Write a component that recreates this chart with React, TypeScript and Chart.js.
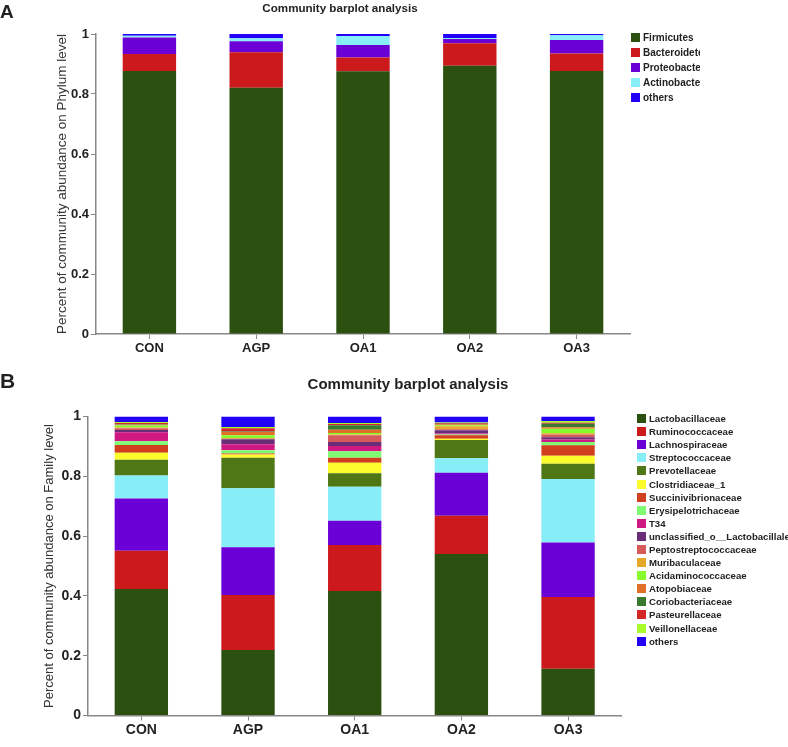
import React, { useEffect, useRef } from "react";
import { Chart, registerables } from "chart.js";

Chart.register(...registerables);

const FONT = '"Liberation Sans", Arial, Helvetica, sans-serif';

// ---------- shared ----------
const groups = ["CON", "AGP", "OA1", "OA2", "OA3"];
const yTicks = [0, 0.2, 0.4, 0.6, 0.8, 1];
const chartTitle = "Community barplot analysis";

// ---------- Panel A: phylum level ----------
const phylumNames = ["Firmicutes", "Bacteroidetes", "Proteobacteria", "Actinobacteria", "others"];
const phylumColors = ["#2b500f", "#cc1a1c", "#6a00d6", "#87eef8", "#2200f5"];
const firmicutes = [0.877, 0.821, 0.876, 0.894, 0.877];
const bacteroidetes = [0.056, 0.118, 0.046, 0.075, 0.058];
const proteobacteria = [0.055, 0.037, 0.041, 0.014, 0.045];
const actinobacteria = [0.006, 0.010, 0.030, 0.004, 0.016];
const phylumOthers = [0.006, 0.014, 0.007, 0.013, 0.004];
const phylumSeries = [firmicutes, bacteroidetes, proteobacteria, actinobacteria, phylumOthers];

// ---------- Panel B: family level ----------
const familyNames = [
  "Lactobacillaceae",
  "Ruminococcaceae",
  "Lachnospiraceae",
  "Streptococcaceae",
  "Prevotellaceae",
  "Clostridiaceae_1",
  "Succinivibrionaceae",
  "Erysipelotrichaceae",
  "T34",
  "unclassified_o__Lactobacillales",
  "Peptostreptococcaceae",
  "Muribaculaceae",
  "Acidaminococcaceae",
  "Atopobiaceae",
  "Coriobacteriaceae",
  "Pasteurellaceae",
  "Veillonellaceae",
  "others",
];
const familyColors = [
  "#2b500f", "#cc1a1c", "#6a00d6", "#87eef8", "#4f7716", "#fcfc2c",
  "#d23f1e", "#80fc72", "#d01882", "#6a2d78", "#d65a5a", "#e5a828",
  "#87fc2c", "#e07028", "#3a7a30", "#d42828", "#a8fc2c", "#2200f5",
];
const lactobacillaceae = [0.423, 0.219, 0.416, 0.540, 0.156];
const ruminococcaceae = [0.128, 0.184, 0.154, 0.128, 0.240];
const lachnospiraceae = [0.175, 0.160, 0.081, 0.144, 0.183];
const streptococcaceae = [0.077, 0.197, 0.114, 0.048, 0.212];
const prevotellaceae = [0.052, 0.102, 0.045, 0.061, 0.051];
const clostridiaceae1 = [0.024, 0.011, 0.035, 0.005, 0.027];
const succinivibrionaceae = [0.026, 0.003, 0.017, 0.011, 0.035];
const erysipelotrichaceae = [0.012, 0.011, 0.022, 0.003, 0.011];
const t34 = [0.030, 0.020, 0.017, 0.003, 0.008];
const unclassifiedLactobacillales = [0.008, 0.017, 0.014, 0.011, 0.008];
const peptostreptococcaceae = [0.006, 0.002, 0.022, 0.003, 0.009];
const muribaculaceae = [0.002, 0.002, 0.003, 0.010, 0.004];
const acidaminococcaceae = [0.007, 0.009, 0.005, 0.004, 0.015];
const atopobiaceae = [0.002, 0.011, 0.011, 0.003, 0.005];
const coriobacteriaceae = [0.002, 0.002, 0.015, 0.002, 0.012];
const pasteurellaceae = [0.004, 0.011, 0.004, 0.002, 0.003];
const veillonellaceae = [0.004, 0.004, 0.003, 0.002, 0.006];
const familyOthers = [0.018, 0.035, 0.022, 0.020, 0.015];
const familySeries = [
  lactobacillaceae, ruminococcaceae, lachnospiraceae, streptococcaceae, prevotellaceae,
  clostridiaceae1, succinivibrionaceae, erysipelotrichaceae, t34, unclassifiedLactobacillales,
  peptostreptococcaceae, muribaculaceae, acidaminococcaceae, atopobiaceae, coriobacteriaceae,
  pasteurellaceae, veillonellaceae, familyOthers,
];

type PanelProps = {
  top: number;
  height: number;
  names: string[];
  colors: string[];
  series: number[][];
  yTitle: string;
  area: { left: number; right: number; top: number; bottom: number };
  tickFont: number;
  yTitleFont: number;
  yTitleX: number;
  xLabelPad: number;
};

function BarPanel(p: PanelProps) {
  const ref = useRef<HTMLCanvasElement | null>(null);
  useEffect(() => {
    if (!ref.current) return;
    const W = 788;
    const yWidth = p.area.left;
    const xHeight = p.height - p.area.bottom;
    const titleLine = p.yTitleFont * 1.2;
    const chart = new Chart(ref.current, {
      type: "bar",
      data: {
        labels: groups,
        datasets: p.series.map((vals, i) => ({
          label: p.names[i],
          data: vals,
          backgroundColor: p.colors[i],
          borderWidth: 0,
          barPercentage: 0.5,
          categoryPercentage: 1,
        })),
      },
      options: {
        responsive: false,
        animation: false,
        devicePixelRatio: 1,
        layout: {
          padding: { left: 0, top: p.area.top, right: W - p.area.right, bottom: 0 },
        },
        plugins: {
          legend: { display: false },
          title: { display: false },
          tooltip: { enabled: false },
        },
        scales: {
          x: {
            stacked: true,
            grid: {
              display: true,
              drawOnChartArea: false,
              drawTicks: true,
              offset: false,
              tickLength: 5,
              color: "#888",
            },
            border: { display: true, color: "#888", width: 1.5 },
            ticks: {
              color: "#222",
              padding: p.xLabelPad,
              font: { family: FONT, size: p.tickFont, weight: "bold" },
            },
            afterFit: (s: any) => {
              s.height = xHeight;
            },
          },
          y: {
            stacked: true,
            min: 0,
            max: 1,
            afterBuildTicks: (s: any) => {
              s.ticks = yTicks.map((v) => ({ value: v }));
            },
            grid: {
              display: true,
              drawOnChartArea: false,
              drawTicks: true,
              tickLength: 5,
              color: "#888",
            },
            border: { display: true, color: "#888", width: 1.5 },
            ticks: {
              color: "#222",
              padding: 2,
              font: { family: FONT, size: p.tickFont, weight: "bold" },
              callback: (v: any) => String(v),
            },
            title: {
              display: true,
              text: p.yTitle,
              color: "#333",
              font: { family: FONT, size: p.yTitleFont },
              padding: { top: p.yTitleX - titleLine / 2, bottom: 0 },
            },
            afterFit: (s: any) => {
              s.width = yWidth;
            },
          },
        },
      },
    });
    return () => chart.destroy();
  }, []);
  return (
    <canvas
      ref={ref}
      width={788}
      height={p.height}
      style={{ position: "absolute", left: 0, top: p.top, width: 788, height: p.height }}
    />
  );
}

function Legend(props: {
  names: string[];
  colors: string[];
  left: number;
  top: number;
  width: number;
  rowH: number;
  box: number;
  font: number;
}) {
  return (
    <div
      style={{
        position: "absolute",
        left: props.left,
        top: props.top,
        width: props.width,
        overflow: "hidden",
        fontFamily: FONT,
        fontWeight: "bold",
        fontSize: props.font,
        color: "#222",
        whiteSpace: "nowrap",
      }}
    >
      {props.names.map((n, i) => (
        <div key={n} style={{ height: props.rowH, display: "flex", alignItems: "center" }}>
          <span
            style={{
              display: "inline-block",
              width: props.box,
              height: props.box,
              background: props.colors[i],
              marginRight: 3,
              flex: "none",
            }}
          />
          <span>{n}</span>
        </div>
      ))}
    </div>
  );
}

export default function App() {
  const txt = (extra: React.CSSProperties): React.CSSProperties => ({
    position: "absolute",
    fontFamily: FONT,
    fontWeight: "bold",
    color: "#222",
    whiteSpace: "nowrap",
    lineHeight: 1,
    ...extra,
  });
  return (
    <div style={{ position: "absolute", left: 0, top: 0, width: 788, height: 747, background: "#fff", overflow: "hidden" }}>
      <BarPanel
        top={0}
        height={365}
        names={phylumNames}
        colors={phylumColors}
        series={phylumSeries}
        yTitle="Percent of community abundance on Phylum level"
        area={{ left: 96, right: 630, top: 34, bottom: 334 }}
        tickFont={13}
        yTitleFont={13.5}
        yTitleX={62}
        xLabelPad={2}
      />
      <BarPanel
        top={365}
        height={382}
        names={familyNames}
        colors={familyColors}
        series={familySeries}
        yTitle="Percent of community abundance on Family level"
        area={{ left: 88, right: 621.4, top: 51.5, bottom: 350.5 }}
        tickFont={14}
        yTitleFont={13}
        yTitleX={49}
        xLabelPad={1}
      />
      <Legend names={phylumNames} colors={phylumColors} left={631} top={30} width={69} rowH={15.1} box={9} font={10} />
      <Legend names={familyNames} colors={familyColors} left={637} top={412} width={151} rowH={13.1} box={9} font={9.6} />
      <div style={txt({ left: 0, top: 2, fontSize: 19 })}>A</div>
      <div style={txt({ left: 0, top: 370, fontSize: 21 })}>B</div>
      <div style={txt({ left: 340, top: 8, fontSize: 11.6, transform: "translate(-50%, -50%)" })}>{chartTitle}</div>
      <div style={txt({ left: 408, top: 383, fontSize: 15, transform: "translate(-50%, -50%)" })}>{chartTitle}</div>
    </div>
  );
}
